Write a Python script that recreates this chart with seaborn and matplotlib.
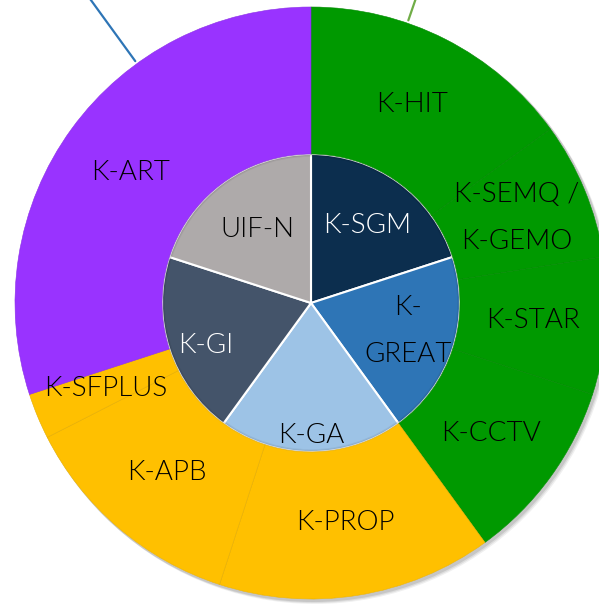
import numpy as np
import seaborn as sns
import matplotlib.pyplot as plt
from matplotlib.patches import Circle

# outer ring (programmes) and inner pie (groups)
outer_labels = ['K-HIT', 'K-SEMQ /\nK-GEMO', 'K-STAR', 'K-CCTV',
                'K-PROP', 'K-APB', 'K-SFPLUS', 'K-ART']
outer_values = [6, 3, 3, 4, 6, 5, 1, 12]
outer_colors = ['#009900', '#009900', '#009900', '#009900',
                '#FFC000', '#FFC000', '#FFC000', '#9933FF']

inner_labels = ['K-SGM', 'K-\nGREAT', 'K-GA', 'K-GI', 'UIF-N']
inner_values = [1, 1, 1, 1, 1]
inner_colors = ['#0C2E4E', '#2E75B6', '#9DC3E6', '#44546A', '#AEAAAA']
inner_text_colors = ['white', 'black', 'black', 'white', 'black']

sns.set_theme(style='white')
plt.rcParams['font.family'] = ['Lato', 'DejaVu Sans']

fig = plt.figure(figsize=(5.99, 6.04), dpi=100)
ax = fig.add_axes([0, 0, 1, 1])

r_in = 149 / 296
px = 1 / 296

# soft shadow behind the ring
for k, al in [(4, 0.06), (3, 0.08), (2, 0.10)]:
    ax.add_patch(Circle((k * px, -k * px), 1.0 + px, color='black', alpha=al,
                        linewidth=0, zorder=0))
ax.add_patch(Circle((0, 0), 1.0, color='white', linewidth=0, zorder=0.5))

# inner pie
wi, _ = ax.pie(inner_values, colors=sns.color_palette(inner_colors), radius=r_in,
               startangle=90, counterclock=False,
               wedgeprops=dict(edgecolor='white', linewidth=1.5, zorder=2))
inner_r = [0.64, 0.68, 0.89, 0.76, 0.61]
inner_shift = [0, 2, 0, 4, 0]
for w, lab, tc, rf, sh in zip(wi, inner_labels, inner_text_colors, inner_r, inner_shift):
    a = np.deg2rad((w.theta1 + w.theta2) / 2 + sh)
    ax.text(rf * r_in * np.cos(a), rf * r_in * np.sin(a), lab, color=tc,
            ha='center', va='center', fontsize=20, fontweight=300,
            linespacing=2.1, zorder=3)
# darker rim on the inner pie
for k, al in [(0, 0.10), (1, 0.07), (2, 0.05)]:
    ax.add_patch(Circle((0, 0), r_in - k * px, fill=False, edgecolor='black',
                        alpha=al, linewidth=1.2, zorder=3.5))

# outer ring
wo, _ = ax.pie(outer_values, colors=outer_colors, radius=1.0,
               startangle=90, counterclock=False,
               wedgeprops=dict(width=1 - r_in, linewidth=0.4, zorder=4))
for w in wo:
    fc = np.array(w.get_facecolor()[:3])
    w.set_edgecolor(tuple(fc * 0.9))
r_mid = (1 + r_in) / 2
for w, lab in zip(wo, outer_labels):
    a = np.deg2rad((w.theta1 + w.theta2) / 2)
    ax.text(r_mid * np.cos(a), r_mid * np.sin(a), lab, color='black',
            ha='center', va='center', fontsize=20, fontweight=300,
            linespacing=2.1, zorder=5)

# leader lines going off the top of the picture
for ang, col in [(126, '#2E75B6'), (71, '#70AD47')]:
    a = np.deg2rad(ang)
    ax.plot([1.01 * np.cos(a), 1.4 * np.cos(a)], [1.01 * np.sin(a), 1.4 * np.sin(a)],
            color=col, linewidth=1.6, zorder=2)

ax.set_aspect('auto')
ax.set_xlim(-311 * px, 288 * px)
ax.set_ylim(-301 * px, 303 * px)
ax.axis('off')

fig.savefig('out.png', dpi=100)
